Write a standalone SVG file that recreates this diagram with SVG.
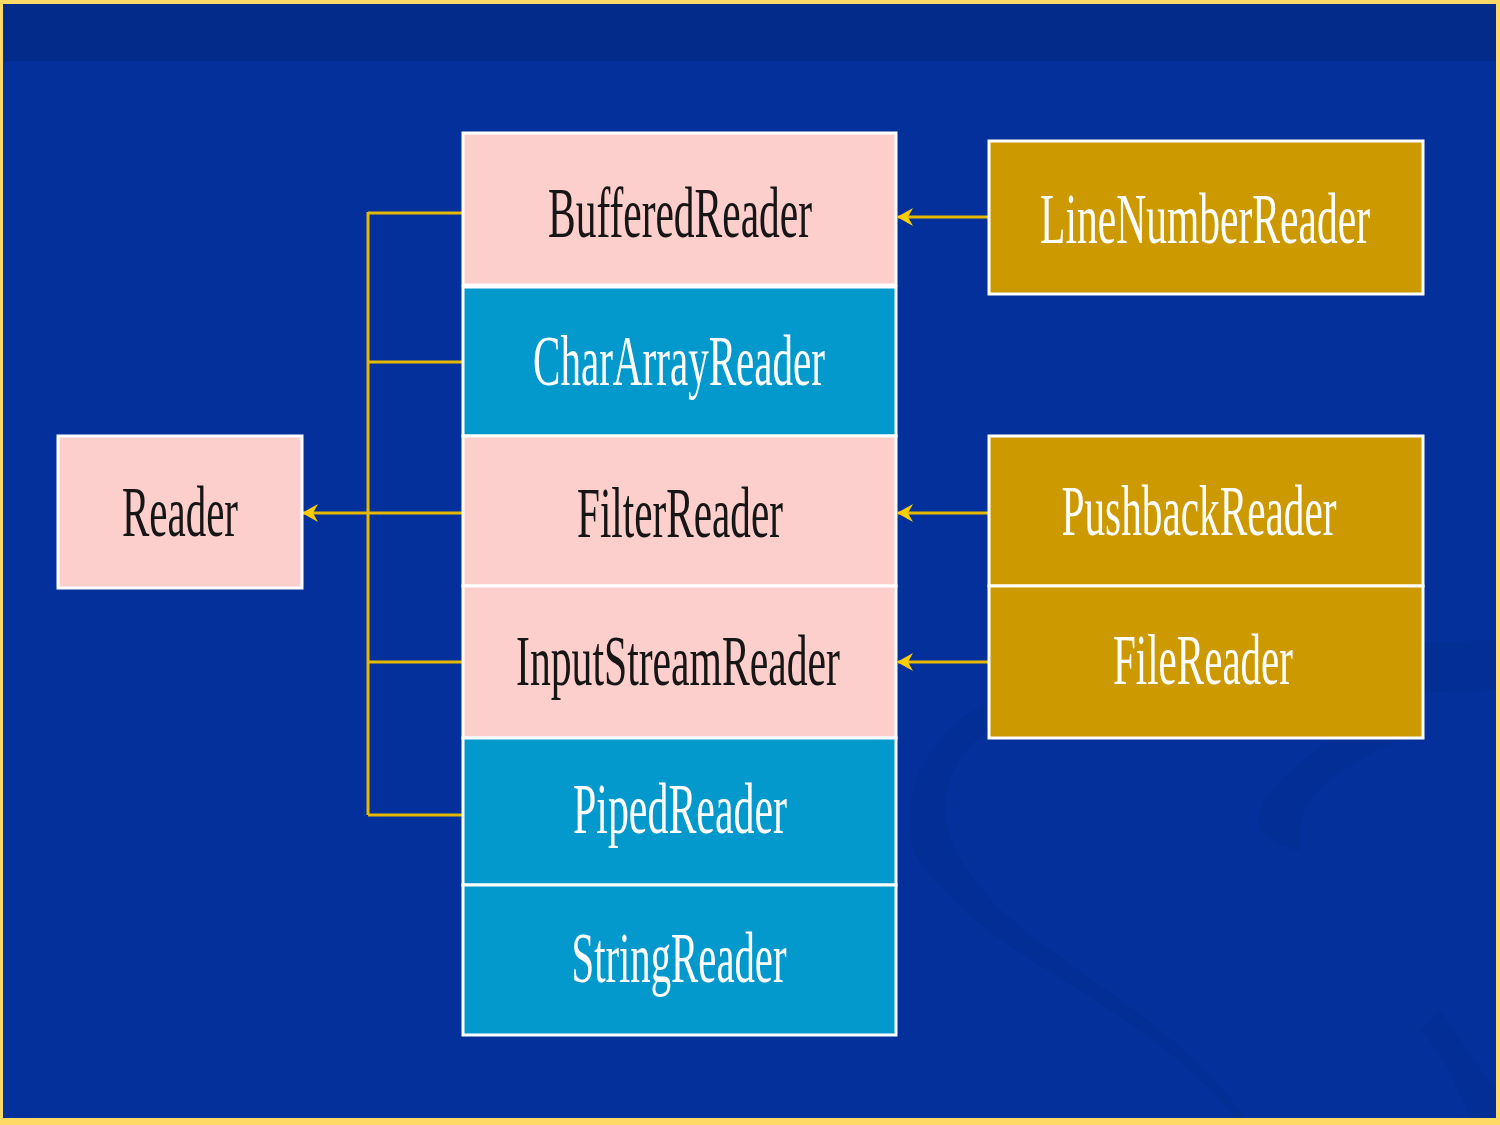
<svg xmlns="http://www.w3.org/2000/svg" width="1500" height="1125" viewBox="0 0 1500 1125">
<style>
.box{stroke:#ffffff;stroke-width:3}
.pink{fill:#fdcfcc}
.cyan{fill:#0399cc}
.gold{fill:#cc9900}
.t{font-family:"Liberation Serif","DejaVu Serif",serif;font-size:72px;text-anchor:middle}
.dk{fill:#161616}
.wt{fill:#ffffff}
.con{stroke:#e6b800;stroke-width:3;fill:none}
</style>
<defs>
<marker id="ah" viewBox="0 0 16 18" refX="15" refY="9" markerWidth="16" markerHeight="18" markerUnits="userSpaceOnUse" orient="auto">
<path d="M16,9 L0,0 L5,9 L0,18 Z" fill="#ffcc00"/>
</marker>
</defs>
<rect x="0" y="0" width="1500" height="1125" fill="#ffd966"/>
<rect x="3" y="4" width="1493" height="1114" fill="#03309a"/>
<rect x="3" y="4" width="1493" height="57" fill="#032b8a"/>
<g id="bg-swoosh" fill="#032e94">
<path d="M1496,640 C1300,650 1050,650 960,720 C890,780 900,860 945,890 C1000,960 1150,1010 1235,1118 L1245,1118 C1170,1010 1020,950 975,880 C925,820 940,760 1000,720 C1100,670 1330,700 1496,690 Z"/>
<path d="M1330,740 C1290,770 1250,800 1260,830 C1270,840 1290,850 1300,850 C1295,810 1310,780 1400,740 Z"/>
<path d="M1440,1010 C1460,1040 1480,1070 1496,1090 L1496,1118 L1470,1118 C1460,1090 1440,1050 1420,1030 Z"/>
</g>
<g id="connectors">
<line class="con" x1="368" y1="212" x2="368" y2="815"/>
<line class="con" x1="368" y1="213" x2="463" y2="213"/>
<line class="con" x1="368" y1="362" x2="463" y2="362"/>
<line class="con" x1="368" y1="662" x2="463" y2="662"/>
<line class="con" x1="368" y1="815" x2="463" y2="815"/>
<line class="con" x1="463" y1="513" x2="303" y2="513" marker-end="url(#ah)"/>
<line class="con" x1="989" y1="217" x2="898" y2="217" marker-end="url(#ah)"/>
<line class="con" x1="989" y1="513" x2="898" y2="513" marker-end="url(#ah)"/>
<line class="con" x1="989" y1="662" x2="898" y2="662" marker-end="url(#ah)"/>
</g>
<g id="reader">
<rect class="box pink" x="58" y="436" width="244" height="152"/>
<text class="t dk" x="180" y="536" textLength="116" lengthAdjust="spacingAndGlyphs">Reader</text>
</g>
<g id="bufferedreader">
<rect class="box pink" x="463" y="133" width="433" height="152"/>
<text class="t dk" x="680" y="237" textLength="264" lengthAdjust="spacingAndGlyphs">BufferedReader</text>
</g>
<g id="chararrayreader">
<rect class="box cyan" x="463" y="287" width="433" height="149"/>
<text class="t wt" x="679" y="385" textLength="292" lengthAdjust="spacingAndGlyphs">CharArrayReader</text>
</g>
<g id="filterreader">
<rect class="box pink" x="463" y="436" width="433" height="150"/>
<text class="t dk" x="680" y="537" textLength="206" lengthAdjust="spacingAndGlyphs">FilterReader</text>
</g>
<g id="inputstreamreader">
<rect class="box pink" x="463" y="586" width="433" height="152"/>
<text class="t dk" x="678" y="685" textLength="324" lengthAdjust="spacingAndGlyphs">InputStreamReader</text>
</g>
<g id="pipedreader">
<rect class="box cyan" x="463" y="738" width="433" height="147"/>
<text class="t wt" x="680" y="833" textLength="214" lengthAdjust="spacingAndGlyphs">PipedReader</text>
</g>
<g id="stringreader">
<rect class="box cyan" x="463" y="885" width="433" height="150"/>
<text class="t wt" x="679" y="982" textLength="215" lengthAdjust="spacingAndGlyphs">StringReader</text>
</g>
<g id="linenumberreader">
<rect class="box gold" x="989" y="141" width="434" height="153"/>
<text class="t wt" x="1205" y="243" textLength="330" lengthAdjust="spacingAndGlyphs">LineNumberReader</text>
</g>
<g id="pushbackreader">
<rect class="box gold" x="989" y="436" width="434" height="150"/>
<text class="t wt" x="1199" y="535" textLength="275" lengthAdjust="spacingAndGlyphs">PushbackReader</text>
</g>
<g id="filereader">
<rect class="box gold" x="989" y="586" width="434" height="152"/>
<text class="t wt" x="1203" y="684" textLength="180" lengthAdjust="spacingAndGlyphs">FileReader</text>
</g>
</svg>
